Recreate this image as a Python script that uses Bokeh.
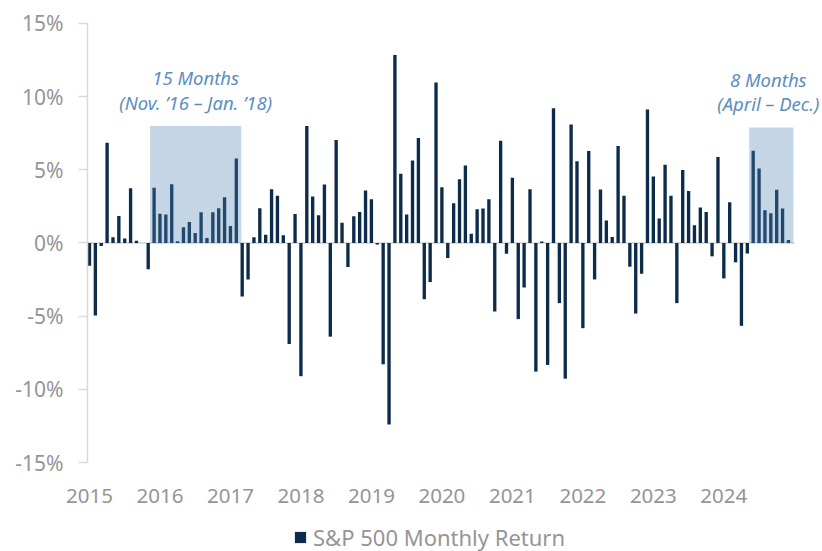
from bokeh.plotting import figure
from bokeh.models import (Range1d, FixedTicker, Legend, LegendItem,
                          ColumnDataSource)
from bokeh.core.properties import value
from bokeh.embed import file_html
from bokeh.resources import INLINE

# Monthly S&P 500 returns (%), Dec 2015 .. Nov 2025
returns = [
    -1.55,                                                        # Dec 2015
    -4.95, -0.2, 6.85, 0.4, 1.85, 0.3, 3.74, 0.15, 0.0, -1.8, 3.77, 2.0,        # 2016
    1.94, 4.02, 0.12, 1.07, 1.44, 0.68, 2.1, 0.34, 2.1, 2.37, 3.13, 1.16,      # 2017
    5.78, -3.65, -2.5, 0.39, 2.37, 0.57, 3.68, 3.22, 0.53, -6.9, 1.99, -9.1,    # 2018
    8.0, 3.17, 1.9, 4.0, -6.4, 7.03, 1.39, -1.64, 1.83, 2.12, 3.58, 2.99,       # 2019
    -0.1, -8.29, -12.4, 12.85, 4.73, 1.94, 5.64, 7.17, -3.84, -2.67, 10.96, 3.81,  # 2020
    -1.03, 2.72, 4.36, 5.3, 0.64, 2.31, 2.35, 2.99, -4.68, 6.99, -0.73, 4.45,  # 2021
    -5.2, -3.04, 3.68, -8.79, 0.11, -8.33, 9.2, -4.11, -9.27, 8.1, 5.59, -5.82,  # 2022
    6.28, -2.49, 3.65, 1.53, 0.41, 6.62, 3.22, -1.62, -4.82, -2.1, 9.13, 4.54,  # 2023
    1.67, 5.34, 3.22, -4.11, 4.98, 3.56, 1.21, 2.42, 2.12, -0.91, 5.87, -2.42,  # 2024
    2.79, -1.32, -5.66, -0.71, 6.3, 5.09, 2.24, 2.03, 3.63, 2.35, 0.2,          # 2025
]
months = list(range(len(returns)))

year_labels = ["2015", "2016", "2017", "2018", "2019",
               "2020", "2021", "2022", "2023", "2024"]
year_ticks = [12 * i for i in range(len(year_labels))]

y_ticks = [-15, -10, -5, 0, 5, 10, 15]
y_labels = ["-15%", "-10%", "-5%", "0%", "5%", "10%", "15%"]

# Streak boxes: first and last month index of each streak, and box height (%)
streak_first = [11, 113]
streak_last = [25, 119]
streak_top = [8.0, 7.9]
streak_title = ["15 Months", "8 Months"]
streak_range = ["(Nov. \u201916 \u2013 Jan. \u201918)", "(April \u2013 Dec.)"]

NAVY = "#0d2b4b"
GREY = "#959595"
NOTE = "#5b8ec0"
FONT = "Noto Sans"

X0 = -0.34          # position of the value axis, in months
Y_MIN, Y_MAX = -15, 15

p = figure(width=822, height=551, output_backend="svg", toolbar_location=None,
           x_range=Range1d(-15.15, 124.8), y_range=Range1d(-21.08, 16.57),
           min_border_left=0, min_border_right=0, min_border_top=0,
           min_border_bottom=0)
p.outline_line_color = None
p.grid.visible = False
p.background_fill_color = "white"
p.border_fill_color = "white"

# zero line across the data area
p.segment(x0=[X0], x1=[len(returns)], y0=[0], y1=[0],
          line_color="#dcdcdc", line_width=2)

bars = p.vbar(x=months, top=returns, bottom=0, width=0.57,
              fill_color=NAVY, line_color=None)

box_src = ColumnDataSource(dict(
    left=[f - 0.68 for f in streak_first],
    right=[l + 0.85 for l in streak_last],
    top=streak_top, bottom=[0, 0],
    cx=[(f - 0.68 + l + 0.85) / 2 for f, l in zip(streak_first, streak_last)],
    title=streak_title, rng=streak_range,
    y1=[t + 3.3 for t in streak_top], y2=[t + 1.6 for t in streak_top],
    xo=[0, -3],
))
p.quad(left="left", right="right", top="top", bottom="bottom", source=box_src,
       fill_color="#4f85b4", fill_alpha=0.335, line_color=None)

p.text(x="cx", y="y1", text="title", source=box_src, x_offset="xo",
       text_align="center", text_baseline="middle",
       text_font=value(FONT), text_font_style="italic",
       text_font_size="18.5px", text_color=NOTE)
p.text(x="cx", y="y2", text="rng", source=box_src, x_offset="xo",
       text_align="center", text_baseline="middle",
       text_font=value(FONT), text_font_style="italic",
       text_font_size="18.5px", text_color=NOTE)

# y axis, placed at the start of the data area
ya = p.yaxis[0]
ya.fixed_location = X0
ya.bounds = (Y_MIN, Y_MAX)
ya.ticker = FixedTicker(ticks=y_ticks)
ya.major_label_overrides = {t: l for t, l in zip(y_ticks, y_labels)}
ya.axis_line_color = "#d9d9d9"
ya.axis_line_width = 1.5
ya.major_tick_line_color = "#d9d9d9"
ya.major_tick_line_width = 1.5
ya.major_tick_out = 9
ya.major_tick_in = 0
ya.minor_tick_line_color = None
ya.major_label_standoff = 15
ya.major_label_text_font = FONT
ya.major_label_text_font_size = "21px"
ya.major_label_text_color = GREY

# x axis, sitting at the bottom of the value scale
xa = p.xaxis[0]
xa.fixed_location = Y_MIN
xa.ticker = FixedTicker(ticks=year_ticks)
xa.major_label_overrides = {t: l for t, l in zip(year_ticks, year_labels)}
xa.axis_line_color = None
xa.major_tick_line_color = None
xa.minor_tick_line_color = None
xa.major_label_standoff = 20
xa.major_label_text_font = FONT
xa.major_label_text_font_size = "20.5px"
xa.major_label_text_color = GREY

legend = Legend(items=[LegendItem(label="S&P 500 Monthly Return", renderers=[bars])],
                location=(293, -1), orientation="horizontal",
                glyph_width=14, glyph_height=14, label_standoff=6,
                padding=0, margin=0, spacing=0,
                label_text_font=FONT, label_text_font_size="22px",
                label_text_color=GREY, border_line_color=None,
                background_fill_alpha=0)
p.add_layout(legend, "center")

open("out.html", "w").write(file_html(p, INLINE))
